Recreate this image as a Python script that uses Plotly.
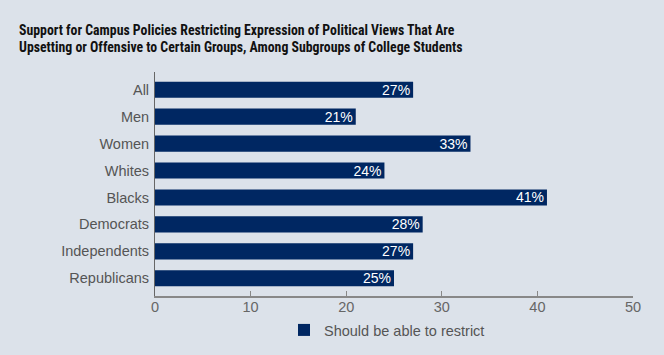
import plotly.graph_objects as go

categories = ["All", "Men", "Women", "Whites", "Blacks", "Democrats", "Independents", "Republicans"]
values = [27, 21, 33, 24, 41, 28, 27, 25]
labels = [f"{v}%" for v in values]
series_name = "Should be able to restrict"
x_ticks = [0, 10, 20, 30, 40, 50]

bg = "#dce2ea"
bar_color = "#002762"
body_font = "Liberation Sans, Arial"

fig = go.Figure()
fig.add_trace(go.Bar(
    x=values, y=categories, orientation="h", name=series_name,
    marker=dict(color=bar_color, line=dict(width=0)),
    width=0.6,
    text=labels, textposition="inside", insidetextanchor="end",
    textfont=dict(color="white", size=14, family=body_font),
    showlegend=True,
))

fig.update_layout(
    width=664, height=355,
    paper_bgcolor=bg, plot_bgcolor=bg,
    margin=dict(l=155, r=31, t=72, b=59, autoexpand=False),
    font=dict(family=body_font, color="#555555", size=14.5),
    title=dict(
        text="<b>Support for Campus Policies Restricting Expression of Political Views That Are<br>Upsetting or Offensive to Certain Groups, Among Subgroups of College Students</b>",
        x=19/664, xanchor="left", y=1 - 34.5/355, yanchor="middle",
        font=dict(size=13.8, color="#111111", family="Roboto Condensed, Arial"),
    ),
    xaxis=dict(
        range=[0, 50], tickvals=x_ticks, ticks="inside", ticklen=5, tickcolor="#888888",
        showline=True, linecolor="#888888", linewidth=1.5, showgrid=False, zeroline=False,
        tickfont=dict(size=14.5, color="#666666"), automargin=False, ticklabelstandoff=-3,
    ),
    yaxis=dict(
        categoryorder="array", categoryarray=categories,
        range=[7.66, -0.66], showline=True, linecolor="#666666", linewidth=1,
        showgrid=False, ticks="", ticklabelstandoff=2, automargin=False,
        tickfont=dict(size=14.5, color="#555555"),
    ),
    legend=dict(
        orientation="h", x=0.5 - 7 / 478, xanchor="center", y=-(330 - 296) / 224, yanchor="middle",
        font=dict(size=14.5, color="#555555"), bgcolor="rgba(0,0,0,0)",
    ),
    uniformtext=dict(minsize=14, mode="show"),
)

fig.write_html("out.html", config={"displayModeBar": False},
               post_script="document.body.style.margin='0';")
